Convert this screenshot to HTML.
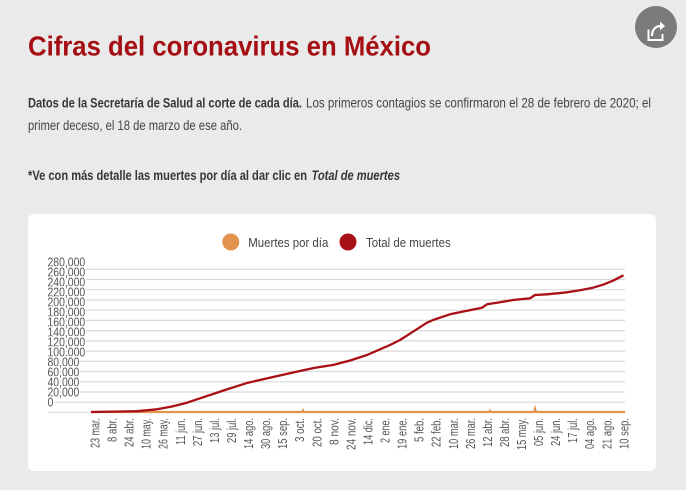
<!DOCTYPE html>
<html><head><meta charset="utf-8"><style>
html,body{margin:0;padding:0;background:#e9eae9;}
svg{display:block;}
text{font-family:"Liberation Sans Narrow","Liberation Sans",sans-serif;}
</style></head><body>
<svg width="686" height="490" viewBox="0 0 686 490" xmlns="http://www.w3.org/2000/svg">
<rect width="686" height="490" fill="#e9eae9"/>
<!-- share -->
<circle cx="656" cy="27" r="21" fill="#7b7b7b"/>
<path d="M648.5 29.5 V40 H662.5 V34" fill="none" stroke="#fff" stroke-width="2"/>
<path d="M652 36 C652 29 656 26 661 26" fill="none" stroke="#fff" stroke-width="2.2"/>
<path d="M660 21.5 L665 26 L660 30.5 Z" fill="#fff"/>
<!-- title -->
<text x="28" y="55.5" font-size="28" font-weight="bold" fill="#a50f14" textLength="403" lengthAdjust="spacingAndGlyphs">Cifras del coronavirus en México</text>
<!-- paragraph -->
<text x="28" y="107.7" font-size="14" font-weight="bold" fill="#363636" textLength="274" lengthAdjust="spacingAndGlyphs">Datos de la Secretaría de Salud al corte de cada día.</text>
<text x="306" y="107.7" font-size="14" fill="#444" textLength="345" lengthAdjust="spacingAndGlyphs">Los primeros contagios se confirmaron el 28 de febrero de 2020; el</text>
<text x="28" y="130" font-size="14" fill="#444" textLength="214" lengthAdjust="spacingAndGlyphs">primer deceso, el 18 de marzo de ese año.</text>
<text x="28" y="180" font-size="14" font-weight="bold" fill="#363636" textLength="279" lengthAdjust="spacingAndGlyphs">*Ve con más detalle las muertes por día al dar clic en</text>
<text x="311.5" y="180" font-size="14" font-weight="bold" font-style="italic" fill="#363636" textLength="88.5" lengthAdjust="spacingAndGlyphs">Total de muertes</text>
<!-- card -->
<rect x="28" y="214" width="628" height="257" rx="6" fill="#ffffff"/>
<!-- legend -->
<circle cx="230.8" cy="242" r="8.5" fill="#e2944f"/>
<text x="248.3" y="246.8" font-size="13" fill="#444" textLength="80" lengthAdjust="spacingAndGlyphs">Muertes por día</text>
<circle cx="348" cy="242" r="8.5" fill="#a90f16"/>
<text x="366" y="246.8" font-size="13" fill="#444" textLength="84.7" lengthAdjust="spacingAndGlyphs">Total de muertes</text>
<!-- gridlines -->
<g stroke="#d9d9d9" stroke-width="1.2">
<line x1="48" x2="625" y1="269.3" y2="269.3"/>
<line x1="48" x2="625" y1="279.5" y2="279.5"/>
<line x1="48" x2="625" y1="289.7" y2="289.7"/>
<line x1="48" x2="625" y1="300" y2="300"/>
<line x1="48" x2="625" y1="310.2" y2="310.2"/>
<line x1="48" x2="625" y1="320.4" y2="320.4"/>
<line x1="48" x2="625" y1="330.6" y2="330.6"/>
<line x1="48" x2="625" y1="340.9" y2="340.9"/>
<line x1="48" x2="625" y1="351.1" y2="351.1"/>
<line x1="48" x2="625" y1="361.3" y2="361.3"/>
<line x1="48" x2="625" y1="371.5" y2="371.5"/>
<line x1="48" x2="625" y1="381.8" y2="381.8"/>
<line x1="48" x2="625" y1="392" y2="392"/>
<line x1="48" x2="625" y1="402.2" y2="402.2"/>
<line x1="48" x2="625" y1="412.3" y2="412.3"/>
</g>
<!-- y labels -->
<g font-size="13" fill="#555" stroke="#fff" stroke-width="3" paint-order="stroke" stroke-linejoin="round">
<text x="47.5" y="266.5" textLength="37.7" lengthAdjust="spacingAndGlyphs">280,000</text>
<text x="47.5" y="276.5" textLength="37.7" lengthAdjust="spacingAndGlyphs">260,000</text>
<text x="47.5" y="286.5" textLength="37.7" lengthAdjust="spacingAndGlyphs">240,000</text>
<text x="47.5" y="296.5" textLength="37.7" lengthAdjust="spacingAndGlyphs">220,000</text>
<text x="47.5" y="306.5" textLength="37.7" lengthAdjust="spacingAndGlyphs">200,000</text>
<text x="47.5" y="316.5" textLength="37.7" lengthAdjust="spacingAndGlyphs">180,000</text>
<text x="47.5" y="326.5" textLength="37.7" lengthAdjust="spacingAndGlyphs">160,000</text>
<text x="47.5" y="336.5" textLength="37.7" lengthAdjust="spacingAndGlyphs">140,000</text>
<text x="47.5" y="346.5" textLength="37.7" lengthAdjust="spacingAndGlyphs">120,000</text>
<text x="47.5" y="356.5" textLength="37.7" lengthAdjust="spacingAndGlyphs">100,000</text>
<text x="47.5" y="366.5" textLength="31.8" lengthAdjust="spacingAndGlyphs">80,000</text>
<text x="47.5" y="376.5" textLength="31.8" lengthAdjust="spacingAndGlyphs">60,000</text>
<text x="47.5" y="386.5" textLength="31.8" lengthAdjust="spacingAndGlyphs">40,000</text>
<text x="47.5" y="396.5" textLength="31.8" lengthAdjust="spacingAndGlyphs">20,000</text>
<text x="47.5" y="406.5" textLength="5.9" lengthAdjust="spacingAndGlyphs">0</text>
</g>
<!-- daily deaths -->
<polyline fill="none" stroke="#e2944f" stroke-width="2.2" points="91,412 302,412 303,410.3 304,412 489,412 490,410.8 491,412 534,412 535,408.6 536,412 625,412"/>
<!-- total deaths -->
<polyline fill="none" stroke="#a90f16" stroke-width="2.3" stroke-linejoin="round" points="91,412 137,411.2 157,409.3 172,406.5 185,403.3 205,396.7 225,390 248,382.7 272,377.3 292,372.7 300,371 315,367.7 333,365 350,360.5 367,355 390,345 400,340 413,331.7 427,322.7 433,320 450,314.3 467,310.7 482,307.7 487,304.3 500,302.3 513,300 530,298.3 535,295 547,294.3 567,292.3 580,290.3 593,287.7 603,284.7 613,280.7 623.5,275.3"/>
<!-- x labels -->
<g font-size="13" fill="#555" text-anchor="end">
<text transform="translate(99.5,418) rotate(-90)" textLength="30" lengthAdjust="spacingAndGlyphs">23 mar.</text>
<text transform="translate(116.6,418) rotate(-90)" textLength="24" lengthAdjust="spacingAndGlyphs">8 abr.</text>
<text transform="translate(133.6,418) rotate(-90)" textLength="29" lengthAdjust="spacingAndGlyphs">24 abr.</text>
<text transform="translate(150.7,418) rotate(-90)" textLength="31" lengthAdjust="spacingAndGlyphs">10 may.</text>
<text transform="translate(167.7,418) rotate(-90)" textLength="31" lengthAdjust="spacingAndGlyphs">26 may.</text>
<text transform="translate(184.8,418) rotate(-90)" textLength="27" lengthAdjust="spacingAndGlyphs">11 jun.</text>
<text transform="translate(201.9,418) rotate(-90)" textLength="28" lengthAdjust="spacingAndGlyphs">27 jun.</text>
<text transform="translate(218.9,418) rotate(-90)" textLength="25" lengthAdjust="spacingAndGlyphs">13 jul.</text>
<text transform="translate(236,418) rotate(-90)" textLength="25" lengthAdjust="spacingAndGlyphs">29 jul.</text>
<text transform="translate(253,418) rotate(-90)" textLength="31" lengthAdjust="spacingAndGlyphs">14 ago.</text>
<text transform="translate(270.1,418) rotate(-90)" textLength="31" lengthAdjust="spacingAndGlyphs">30 ago.</text>
<text transform="translate(287.2,418) rotate(-90)" textLength="31" lengthAdjust="spacingAndGlyphs">15 sep.</text>
<text transform="translate(304.2,418) rotate(-90)" textLength="24" lengthAdjust="spacingAndGlyphs">3 oct.</text>
<text transform="translate(321.3,418) rotate(-90)" textLength="29" lengthAdjust="spacingAndGlyphs">20 oct.</text>
<text transform="translate(338.3,418) rotate(-90)" textLength="27" lengthAdjust="spacingAndGlyphs">8 nov.</text>
<text transform="translate(355.4,418) rotate(-90)" textLength="32" lengthAdjust="spacingAndGlyphs">24 nov.</text>
<text transform="translate(372.5,418) rotate(-90)" textLength="27" lengthAdjust="spacingAndGlyphs">14 dic.</text>
<text transform="translate(389.5,418) rotate(-90)" textLength="25" lengthAdjust="spacingAndGlyphs">2 ene.</text>
<text transform="translate(406.6,418) rotate(-90)" textLength="31" lengthAdjust="spacingAndGlyphs">19 ene.</text>
<text transform="translate(423.6,418) rotate(-90)" textLength="24" lengthAdjust="spacingAndGlyphs">5 feb.</text>
<text transform="translate(440.7,418) rotate(-90)" textLength="29" lengthAdjust="spacingAndGlyphs">22 feb.</text>
<text transform="translate(457.8,418) rotate(-90)" textLength="31" lengthAdjust="spacingAndGlyphs">10 mar.</text>
<text transform="translate(474.8,418) rotate(-90)" textLength="31" lengthAdjust="spacingAndGlyphs">26 mar.</text>
<text transform="translate(491.9,418) rotate(-90)" textLength="29" lengthAdjust="spacingAndGlyphs">12 abr.</text>
<text transform="translate(508.9,418) rotate(-90)" textLength="29" lengthAdjust="spacingAndGlyphs">28 abr.</text>
<text transform="translate(526,418) rotate(-90)" textLength="32" lengthAdjust="spacingAndGlyphs">15 may.</text>
<text transform="translate(543.1,418) rotate(-90)" textLength="28" lengthAdjust="spacingAndGlyphs">05 jun.</text>
<text transform="translate(560.1,418) rotate(-90)" textLength="28" lengthAdjust="spacingAndGlyphs">24 jun.</text>
<text transform="translate(577.2,418) rotate(-90)" textLength="25" lengthAdjust="spacingAndGlyphs">17 jul.</text>
<text transform="translate(594.2,418) rotate(-90)" textLength="31" lengthAdjust="spacingAndGlyphs">04 ago.</text>
<text transform="translate(611.3,418) rotate(-90)" textLength="31" lengthAdjust="spacingAndGlyphs">21 ago.</text>
<text transform="translate(628.4,418) rotate(-90)" textLength="31" lengthAdjust="spacingAndGlyphs">10 sep.</text>
</g>
</svg>
</body></html>
